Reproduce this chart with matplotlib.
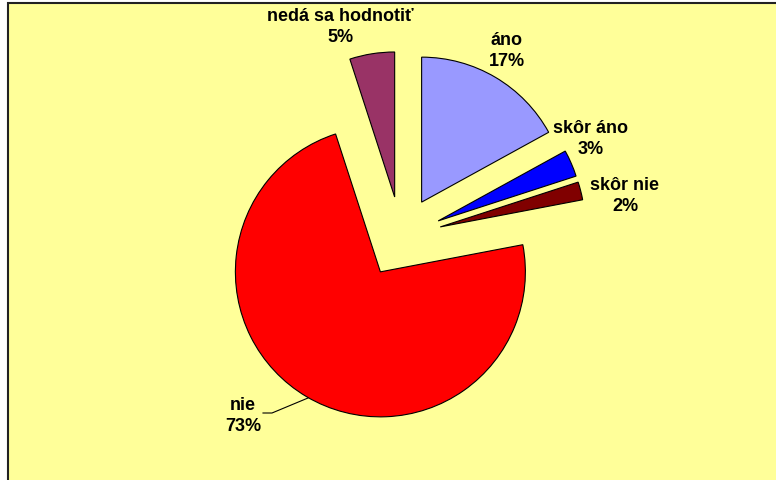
import matplotlib.pyplot as plt
from matplotlib.patches import Rectangle

plt.rcParams['font.family'] = ['Liberation Sans', 'DejaVu Sans']

# Data
categories = ['áno', 'skôr áno', 'skôr nie', 'nie', 'nedá sa hodnotiť']
values = [17, 3, 2, 73, 5]
colors = ['#9999FF', '#0000FF', '#800000', '#FF0000', '#993366']
label_pos = [(507, 430), (591, 342), (625, 285), (243, 65), (340, 454)]

fig = plt.figure(figsize=(7.76, 4.81), dpi=100)
ax = fig.add_axes([0, 0, 1, 1])

# plot area frame
ax.add_patch(Rectangle((8, -20), 800, 497, facecolor='#FFFF99',
                       edgecolor='#222222', linewidth=1.5, zorder=0))

# explode is in data units (pixels here)
ax.pie(values, colors=colors, startangle=90, counterclock=False,
       center=(401, 243), radius=145, explode=[40.5] * len(values),
       wedgeprops=dict(edgecolor='black', linewidth=0.8),
       frame=True)
ax.set_xlim(0, 776)
ax.set_ylim(0, 481)
ax.set_aspect('equal')
ax.axis('off')

for name, val, (x, y) in zip(categories, values, label_pos):
    ax.text(x, y, f'{name}\n{val}%', ha='center', va='center',
            multialignment='center', fontsize=13, fontweight='bold',
            linespacing=1.38)

# leader line for "nie"
ax.plot([263, 272, 308], [67, 67, 82], color='black', linewidth=0.8)

fig.savefig('out.png', dpi=100)
